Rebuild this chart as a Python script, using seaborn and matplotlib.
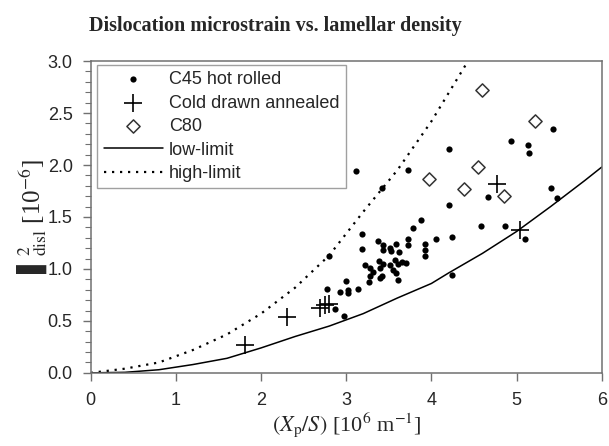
#!/usr/bin/env python3

import matplotlib
matplotlib.use("Agg")
import matplotlib.pyplot as plt
import numpy as np
import pandas as pd
import seaborn as sns
from matplotlib.ticker import MultipleLocator, FormatStrFormatter

# C45 hot rolled
c45_x = [3.11, 3.73, 3.42, 4.21, 5.20, 5.43, 4.94, 5.13, 5.15, 5.40, 5.48, 4.67,
         4.21, 4.58, 4.87, 5.10, 4.24, 4.24, 3.88, 3.79, 4.05, 3.93, 3.93, 3.93,
         3.72, 3.73, 3.19, 3.19, 2.80, 3.37, 3.43, 3.43, 3.51, 3.53, 3.58, 3.62,
         3.22, 3.28, 3.32, 3.40, 3.38, 3.43, 3.51, 3.57, 3.61, 3.65, 3.70, 3.55,
         3.59, 3.42, 3.28, 3.40, 3.27, 3.61, 3.00, 3.02, 3.02, 2.93, 3.14, 2.77,
         2.87, 2.97]
c45_y = [1.94, 1.95, 1.78, 2.15, 2.44, 2.35, 2.23, 2.19, 2.12, 1.78, 1.68, 1.69,
         1.62, 1.41, 1.41, 1.29, 1.31, 0.94, 1.47, 1.39, 1.29, 1.24, 1.18, 1.12,
         1.29, 1.23, 1.34, 1.19, 1.12, 1.27, 1.23, 1.18, 1.20, 1.17, 1.24, 1.16,
         1.04, 1.01, 0.97, 1.01, 1.08, 1.05, 1.04, 1.09, 1.05, 1.07, 1.06, 0.99,
         0.96, 0.93, 0.93, 0.91, 0.87, 0.89, 0.88, 0.80, 0.77, 0.78, 0.81, 0.81,
         0.61, 0.55]

# Cold drawn annealed
cda_x = [1.81, 2.30, 2.69, 2.75, 2.80, 4.77, 5.04]
cda_y = [0.27, 0.54, 0.62, 0.65, 0.66, 1.82, 1.37]

# C80
c80_x = [3.97, 4.38, 4.55, 4.60, 4.85, 5.22]
c80_y = [1.87, 1.77, 1.98, 2.72, 1.70, 2.42]

# limit curves
low_x = [0, 0.4, 0.8, 1.2, 1.6, 2.0, 2.4, 2.8, 3.2, 3.6, 4.0, 4.2, 4.6, 5.0, 5.4, 5.8, 6.0]
low_y = [0, 0.005, 0.03, 0.08, 0.14, 0.24, 0.35, 0.45, 0.57, 0.72, 0.86, 0.96,
         1.15, 1.36, 1.60, 1.85, 1.98]
high_x = [0, 0.4, 0.8, 1.2, 1.6, 2.0, 2.4, 2.8, 3.2, 3.6, 4.0, 4.43]
high_y = [0, 0.04, 0.10, 0.22, 0.37, 0.57, 0.82, 1.13, 1.55, 1.95, 2.42, 3.0]

sns.set_style("ticks")
plt.rcParams['font.family'] = ['Liberation Sans', 'DejaVu Sans']
plt.rcParams['mathtext.fontset'] = 'stix'

EDGE = '#707070'

fig = plt.figure(figsize=(6.09, 4.46), dpi=100)
ax = fig.add_axes([0.149, 0.164, 0.839, 0.699])

sns.scatterplot(x=c45_x, y=c45_y, ax=ax, marker='o', s=20, color='black',
                edgecolor='black', linewidth=0, label='C45 hot rolled')
sns.scatterplot(x=cda_x, y=cda_y, ax=ax, marker='+', s=160, color='black',
                linewidth=1.2, label='Cold drawn annealed')
sns.scatterplot(x=c80_x, y=c80_y, ax=ax, marker='D', s=45, facecolor='white',
                edgecolor='#333333', linewidth=1.1, label='C80')
sns.lineplot(x=low_x, y=low_y, ax=ax, color='black', linewidth=1.1,
             label='low-limit')
sns.lineplot(x=high_x, y=high_y, ax=ax, color='black', linewidth=1.6,
             linestyle=(0, (1, 2.6)), label='high-limit')

ax.set_xlim(0, 6)
ax.set_ylim(0, 3)
ax.xaxis.set_major_locator(MultipleLocator(1))
ax.yaxis.set_major_locator(MultipleLocator(0.5))
ax.yaxis.set_minor_locator(MultipleLocator(0.1))
ax.yaxis.set_major_formatter(FormatStrFormatter('%.1f'))
ax.tick_params(which='major', length=6, width=1, color=EDGE, labelsize=13,
               pad=7)
ax.tick_params(which='minor', length=4, width=0.8, color=EDGE)
ax.tick_params(axis='x', pad=8)
for sp in ax.spines.values():
    sp.set_visible(True)
    sp.set_color(EDGE)
    sp.set_linewidth(1.1)

ax.set_xlabel(r'$(X_{\rm p}/S)$ [10$^{6}$ m$^{-1}$]', family='Liberation Serif',
              fontsize=16, labelpad=1)
ax.set_ylabel('\u258C$^{2}_{\\rm disl}$ [10$^{-6}$]',
              family=['Liberation Serif', 'DejaVu Sans'], fontsize=18,
              labelpad=-1)

fig.text(0.452, 0.942, 'Dislocation microstrain vs. lamellar density',
         family='Liberation Serif', fontweight='bold', fontsize=14.5,
         ha='center', va='center')

handles, labels = ax.get_legend_handles_labels()
leg = ax.legend(handles, labels, loc='upper left', fontsize=13,
                bbox_to_anchor=(0.013, 0.988), borderaxespad=0,
                frameon=True, fancybox=False, edgecolor='#888888',
                handlelength=3.3, handletextpad=0.3,
                labelspacing=0.36, borderpad=0.35)
leg.get_frame().set_linewidth(1.0)

fig.savefig('out.png', dpi=100)
plt.close()
